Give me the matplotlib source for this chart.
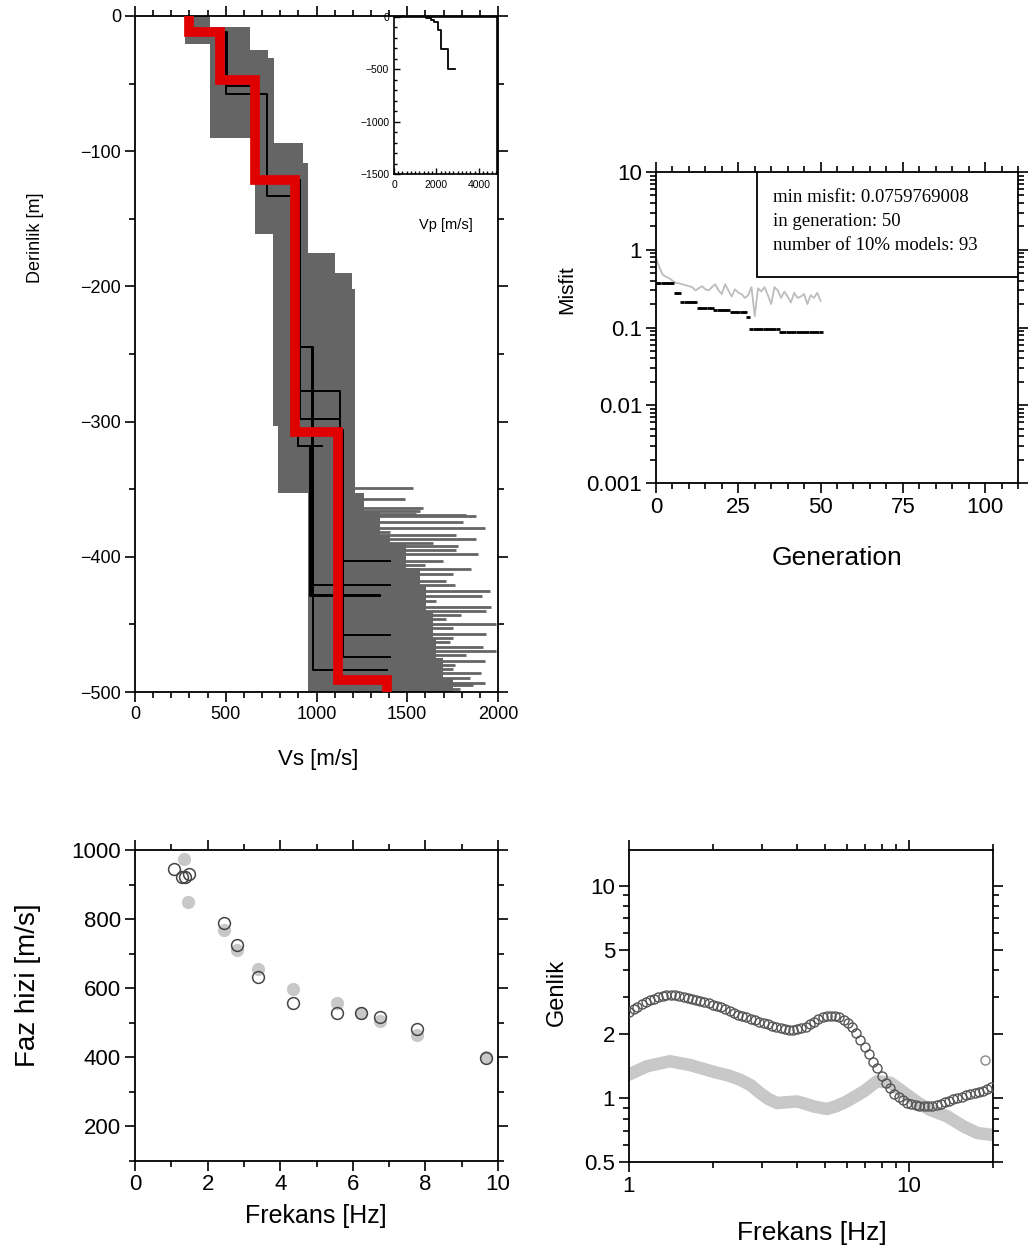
import numpy as np
import matplotlib
matplotlib.use('Agg')
import matplotlib.pyplot as plt
from matplotlib.ticker import MultipleLocator, FixedLocator, FixedFormatter, NullFormatter
from matplotlib.patches import Rectangle

# ---------------- data ----------------
# Vs ensemble envelope (layer top, layer bottom, min Vs, max Vs)
env_top = [0, -8, -21, -25, -31, -90, -94, -109, -161, -175, -190, -202, -303, -348, -353, -366, -384, -390, -408, -421, -441, -461, -475, -490]
env_bot = [-8, -21, -25, -31, -90, -94, -109, -161, -175, -190, -202, -303, -348, -353, -366, -384, -390, -408, -421, -441, -461, -475, -490, -500]
env_left = [275, 275, 413, 413, 413, 660, 660, 660, 760, 760, 760, 760, 787, 787, 952, 952, 952, 952, 952, 952, 952, 952, 952, 952]
env_right = [413, 633, 633, 732, 765, 765, 925, 952, 952, 1100, 1194, 1211, 1211, 1211, 1260, 1348, 1403, 1495, 1568, 1605, 1642, 1660, 1697, 1752]

# half-space velocities of individual models (depth of interface, Vs)
spike_depth = [-349, -357, -364, -366, -368, -369, -370, -374, -379, -382, -384, -387, -390, -392, -395,
               -398, -403, -406, -409, -413, -418, -421, -425, -429, -433, -437, -440, -443, -446, -450,
               -453, -457, -460, -463, -467, -470, -473, -477, -480, -483, -486, -490, -493, -495, -498]
spike_vs = [1530, 1486, 1587, 1568, 1550, 1825, 1880, 1807, 1926, 1403, 1770, 1880, 1642, 1779, 1770,
            1889, 1697, 1596, 1853, 1752, 1715, 1761, 1954, 1913, 1660, 1963, 1935, 1798, 1715, 1990,
            1752, 1935, 1752, 1734, 1917, 1990, 1825, 1926, 1761, 1752, 1908, 1844, 1926, 1862, 1789]

# best models (black)
black_z = [
    [0, -12, -52, -122, -245, -428, -500],
    [0, -12, -58, -133, -277, -306, -458, -500],
    [0, -12, -48, -121, -298, -403, -500],
    [0, -12, -48, -121, -318, -500],
    [0, -12, -48, -121, -318, -429, -500],
    [0, -12, -48, -121, -245, -421, -500],
    [0, -12, -48, -121, -310, -474, -500],
    [0, -12, -48, -121, -310, -484, -500],
]
black_vs = [
    [297, 506, 650, 908, 975, 1348],
    [297, 500, 726, 864, 1128, 1146, 1403],
    [297, 468, 660, 908, 1128, 1403],
    [297, 468, 660, 897, 1029],
    [297, 468, 660, 897, 963, 1348],
    [297, 468, 660, 908, 980, 1403],
    [297, 468, 660, 880, 1146, 1403],
    [297, 468, 660, 880, 980, 1387],
]

# minimum-misfit model (red)
red_z = [0, -12, -47, -121, -308, -491, -500]
red_vs = [297, 468, 660, 880, 1118, 1387]

# Vp profile (inset)
vp_z = [0, -12, -30, -50, -120, -310, -495]
vp_vs = [1500, 1750, 1900, 2060, 2220, 2540, 2850]

# misfit vs generation
generation = list(range(51))
misfit_min = [0.376]*6 + [0.28]*2 + [0.21]*5 + [0.18]*5 + [0.166]*5 + [0.158]*5 + [0.135] + [0.097]*9 + [0.087]*13
misfit_avg = [0.78, 0.60, 0.48, 0.45, 0.43, 0.40, 0.375, 0.37, 0.36, 0.35, 0.34, 0.33, 0.30, 0.32, 0.34,
              0.31, 0.30, 0.33, 0.36, 0.30, 0.27, 0.36, 0.30, 0.25, 0.31, 0.28, 0.27, 0.24, 0.26, 0.33,
              0.14, 0.32, 0.29, 0.33, 0.26, 0.20, 0.33, 0.30, 0.24, 0.29, 0.25, 0.21, 0.28, 0.24, 0.25,
              0.27, 0.20, 0.26, 0.24, 0.28, 0.22]
legend_lines = ["min misfit: 0.0759769008", "in generation: 50", "number of 10% models: 93"]

# dispersion (phase velocity)
disp_obs_f = [1.35, 1.47, 2.46, 2.80, 3.40, 4.34, 5.57, 6.22, 6.75, 7.78, 9.66]
disp_obs_v = [973, 850, 768, 710, 657, 599, 556, 527, 504, 464, 400]
disp_mod_f = [1.08, 1.29, 1.38, 1.50, 2.46, 2.80, 3.40, 4.34, 5.57, 6.22, 6.75, 7.78, 9.66]
disp_mod_v = [944, 923, 923, 930, 789, 725, 633, 556, 527, 527, 517, 483, 399]

# H/V amplitude
hv_obs_f = [1.0, 1.157, 1.40, 1.653, 2.0, 2.25, 2.495, 2.72, 2.94, 3.15, 3.38, 3.65, 3.98, 4.27, 4.57, 5.10,
            5.5, 6.0, 6.9, 7.7, 8.6, 9.86, 10.8, 11.9, 13.7, 15.7, 17.6, 20.0]
hv_obs_a = [1.29, 1.41, 1.49, 1.43, 1.33, 1.28, 1.22, 1.15, 1.056, 0.99, 0.947, 0.955, 0.964, 0.94, 0.913, 0.888,
            0.915, 0.964, 1.074, 1.20, 1.18, 1.036, 0.95, 0.881, 0.82, 0.735, 0.684, 0.67]
hv_mod_f = [1.00, 1.04, 1.07, 1.11, 1.15, 1.19, 1.23, 1.27, 1.32, 1.36, 1.41, 1.46, 1.51, 1.57, 1.62,
            1.68, 1.74, 1.80, 1.86, 1.93, 2.00, 2.07, 2.14, 2.21, 2.29, 2.37, 2.46, 2.54, 2.63, 2.73,
            2.82, 2.92, 3.03, 3.13, 3.24, 3.36, 3.48, 3.60, 3.73, 3.86, 3.99, 4.13, 4.28, 4.43, 4.59,
            4.75, 4.92, 5.09, 5.27, 5.46, 5.65, 5.85, 6.06, 6.27, 6.49, 6.72, 6.96, 7.21, 7.46, 7.72,
            8.00, 8.28, 8.57, 8.88, 9.19, 9.51, 9.85, 10.2, 10.6, 10.9, 11.3, 11.7, 12.1, 12.6, 13.0,
            13.5, 13.9, 14.4, 14.9, 15.5, 16.0, 16.6, 17.2, 17.8, 18.4, 19.0, 19.6]
hv_mod_a = [2.55, 2.63, 2.69, 2.77, 2.84, 2.89, 2.94, 2.98, 3.02, 3.04, 3.06, 3.05, 3.03, 3.00, 2.97,
            2.94, 2.90, 2.87, 2.84, 2.80, 2.75, 2.71, 2.67, 2.62, 2.57, 2.51, 2.47, 2.43, 2.40, 2.35,
            2.32, 2.29, 2.25, 2.22, 2.18, 2.15, 2.13, 2.11, 2.10, 2.10, 2.12, 2.14, 2.17, 2.22, 2.28,
            2.35, 2.40, 2.43, 2.44, 2.43, 2.40, 2.34, 2.26, 2.16, 2.03, 1.88, 1.74, 1.61, 1.48, 1.38,
            1.27, 1.18, 1.11, 1.05, 1.01, 0.98, 0.95, 0.935, 0.925, 0.92, 0.915, 0.913, 0.915, 0.925, 0.94,
            0.955, 0.97, 0.985, 1.0, 1.015, 1.03, 1.045, 1.06, 1.07, 1.085, 1.10, 1.13]
hv_extra_f = [18.7]
hv_extra_a = [1.51]

# ---------------- figure ----------------
plt.rcParams['font.family'] = ['Liberation Sans', 'DejaVu Sans']
W, H = 1032, 1258
fig = plt.figure(figsize=(W / 100, H / 100), dpi=100)


def px_axes(l, t, r, b):
    return fig.add_axes([l / W, 1 - b / H, (r - l) / W, (b - t) / H])


def style(ax, size, lw=1.3):
    for s in ax.spines.values():
        s.set_linewidth(lw)
    ax.tick_params(which='both', direction='out', top=True, right=True,
                   labeltop=False, labelright=False, width=1.2, labelsize=size, pad=3)
    ax.tick_params(which='major', length=7)
    ax.tick_params(which='minor', length=4)


def flabel(x, y, s, size, rot=0, **kw):
    fig.text(x / W, 1 - y / H, s, fontsize=size, rotation=rot, ha='center', va='center', **kw)


def step_xy(z, v, last_vertical=True):
    xs, ys = [], []
    for i, val in enumerate(v):
        top = z[i]
        bot = z[i + 1]
        if i == len(v) - 1 and not last_vertical:
            xs += [val]
            ys += [top]
        else:
            xs += [val, val]
            ys += [top, bot]
    return xs, ys


# ---- top-left: Vs profiles ----
ax1 = px_axes(135, 16, 498, 692)
gray = '#656565'
for t, b, l, r in zip(env_top, env_bot, env_left, env_right):
    ax1.fill_betweenx([t, b], l, r, color=gray, lw=0, zorder=1)
ax1.hlines(spike_depth, 1200, spike_vs, color=gray, lw=2.0, zorder=1)
for z, v in zip(black_z, black_vs):
    xs, ys = step_xy(z, v, last_vertical=False)
    ax1.plot(xs, ys, color='black', lw=1.4, zorder=2)
xs, ys = step_xy(red_z, red_vs)
ax1.plot(xs, ys, color='#e00000', lw=7, zorder=3, solid_joinstyle='miter')
ax1.set_xlim(0, 2000)
ax1.set_ylim(-500, 0)
ax1.xaxis.set_major_locator(MultipleLocator(500))
ax1.xaxis.set_minor_locator(MultipleLocator(100))
ax1.yaxis.set_major_locator(MultipleLocator(100))
ax1.yaxis.set_minor_locator(MultipleLocator(50))
style(ax1, 13)
flabel(318, 760, 'Vs [m/s]', 16)
flabel(35, 238, 'Derinlik [m]', 13, rot=90)

# inset Vp
axi = px_axes(394, 17, 497, 174)
xs, ys = step_xy(vp_z[:-1] + [vp_z[-1]], vp_vs[:-1])
xs += [vp_vs[-1]]
ys += [vp_z[-1]]
axi.plot(xs, ys, color='black', lw=1.3)
axi.set_xlim(0, 4850)
axi.set_ylim(-1500, 0)
axi.xaxis.set_major_locator(FixedLocator([0, 2000, 4000]))
axi.xaxis.set_minor_locator(MultipleLocator(200))
axi.yaxis.set_major_locator(FixedLocator([0, -500, -1000, -1500]))
axi.yaxis.set_minor_locator(MultipleLocator(100))
for s in axi.spines.values():
    s.set_linewidth(1.2)
axi.tick_params(which='both', direction='in', labelsize=7.5, width=1)
axi.tick_params(which='major', length=4)
axi.tick_params(which='minor', length=2)
axi.tick_params(axis='x', pad=4)
flabel(446, 225, 'Vp [m/s]', 10.5)

# ---- top-right: misfit ----
ax2 = px_axes(656, 172, 1018, 483)
ax2.plot(generation, misfit_avg, color='#bdbdbd', lw=1.3, zorder=2)
ax2.plot(generation, misfit_min, color='black', linestyle='none', marker='_', markersize=3.5,
         markeredgewidth=2, zorder=3)
ax2.set_yscale('log')
ax2.set_xlim(0, 110)
ax2.set_ylim(0.001, 10)
ax2.xaxis.set_major_locator(FixedLocator([0, 25, 50, 75, 100]))
ax2.xaxis.set_minor_locator(MultipleLocator(5))
dec = [0.001, 0.01, 0.1, 1, 10]
ax2.yaxis.set_major_locator(FixedLocator(dec))
ax2.yaxis.set_major_formatter(FixedFormatter(['0.001', '0.01', '0.1', '1', '10']))
ax2.yaxis.set_minor_locator(FixedLocator([d * k for d in dec[:-1] for k in range(2, 10)]))
ax2.yaxis.set_minor_formatter(NullFormatter())
style(ax2, 16)
ax2.add_patch(Rectangle((0.279, 0.662), 0.721, 0.338, transform=ax2.transAxes,
                        facecolor='white', edgecolor='black', lw=1.3, zorder=4))
for i, line in enumerate(legend_lines):
    ax2.text(773 / W, 1 - (197 + 24.5 * i) / H, line, transform=fig.transFigure,
             family='Liberation Serif', fontsize=13.5, va='center', ha='left', zorder=5)
flabel(837, 558, 'Generation', 19)
flabel(567, 290, 'Misfit', 15, rot=90)

# ---- bottom-left: dispersion ----
ax3 = px_axes(135, 850, 498, 1161)
ax3.plot(disp_obs_f, disp_obs_v, linestyle='none', marker='o', markersize=8.5,
         color='#c8c8c8', markeredgecolor='#c8c8c8', zorder=2)
ax3.plot(disp_mod_f, disp_mod_v, linestyle='none', marker='o', markersize=8.5,
         markerfacecolor='none', markeredgecolor='#444444', markeredgewidth=1.1, zorder=3)
ax3.set_xlim(0, 10)
ax3.set_ylim(100, 1000)
ax3.xaxis.set_major_locator(MultipleLocator(2))
ax3.xaxis.set_minor_locator(MultipleLocator(1))
ax3.yaxis.set_major_locator(MultipleLocator(200))
ax3.yaxis.set_minor_locator(MultipleLocator(100))
style(ax3, 16)
ax3.tick_params(axis='x', pad=2)
flabel(316, 1216, 'Frekans [Hz]', 18)
flabel(28, 985, 'Faz hizi [m/s]', 20, rot=90)

# ---- bottom-right: H/V ----
ax4 = px_axes(629, 850, 993, 1162)
ax4.plot(hv_obs_f, hv_obs_a, color='#c8c8c8', lw=9, solid_capstyle='round', solid_joinstyle='round', zorder=2)
ax4.plot(hv_mod_f, hv_mod_a, linestyle='none', marker='o', markersize=6.5,
         markerfacecolor='none', markeredgecolor='#555555', markeredgewidth=1.0, zorder=3)
ax4.plot(hv_extra_f, hv_extra_a, linestyle='none', marker='o', markersize=6.5,
         markerfacecolor='none', markeredgecolor='#888888', markeredgewidth=1.0, zorder=3)
ax4.set_xscale('log')
ax4.set_yscale('log')
ax4.set_xlim(1, 20)
ax4.set_ylim(0.5, 14.7)
ax4.xaxis.set_major_locator(FixedLocator([1, 10]))
ax4.xaxis.set_major_formatter(FixedFormatter(['1', '10']))
ax4.xaxis.set_minor_locator(FixedLocator([2, 3, 4, 5, 6, 7, 8, 9, 20]))
ax4.xaxis.set_minor_formatter(NullFormatter())
ax4.yaxis.set_major_locator(FixedLocator([0.5, 1, 2, 5, 10]))
ax4.yaxis.set_major_formatter(FixedFormatter(['0.5', '1', '2', '5', '10']))
ax4.yaxis.set_minor_locator(FixedLocator([0.6, 0.7, 0.8, 0.9, 3, 4, 6, 7, 8, 9]))
ax4.yaxis.set_minor_formatter(NullFormatter())
style(ax4, 16)
flabel(812, 1233, 'Frekans [Hz]', 19)
flabel(557, 992, 'Genlik', 17, rot=90)

fig.savefig('out.png', dpi=100, facecolor='white')
